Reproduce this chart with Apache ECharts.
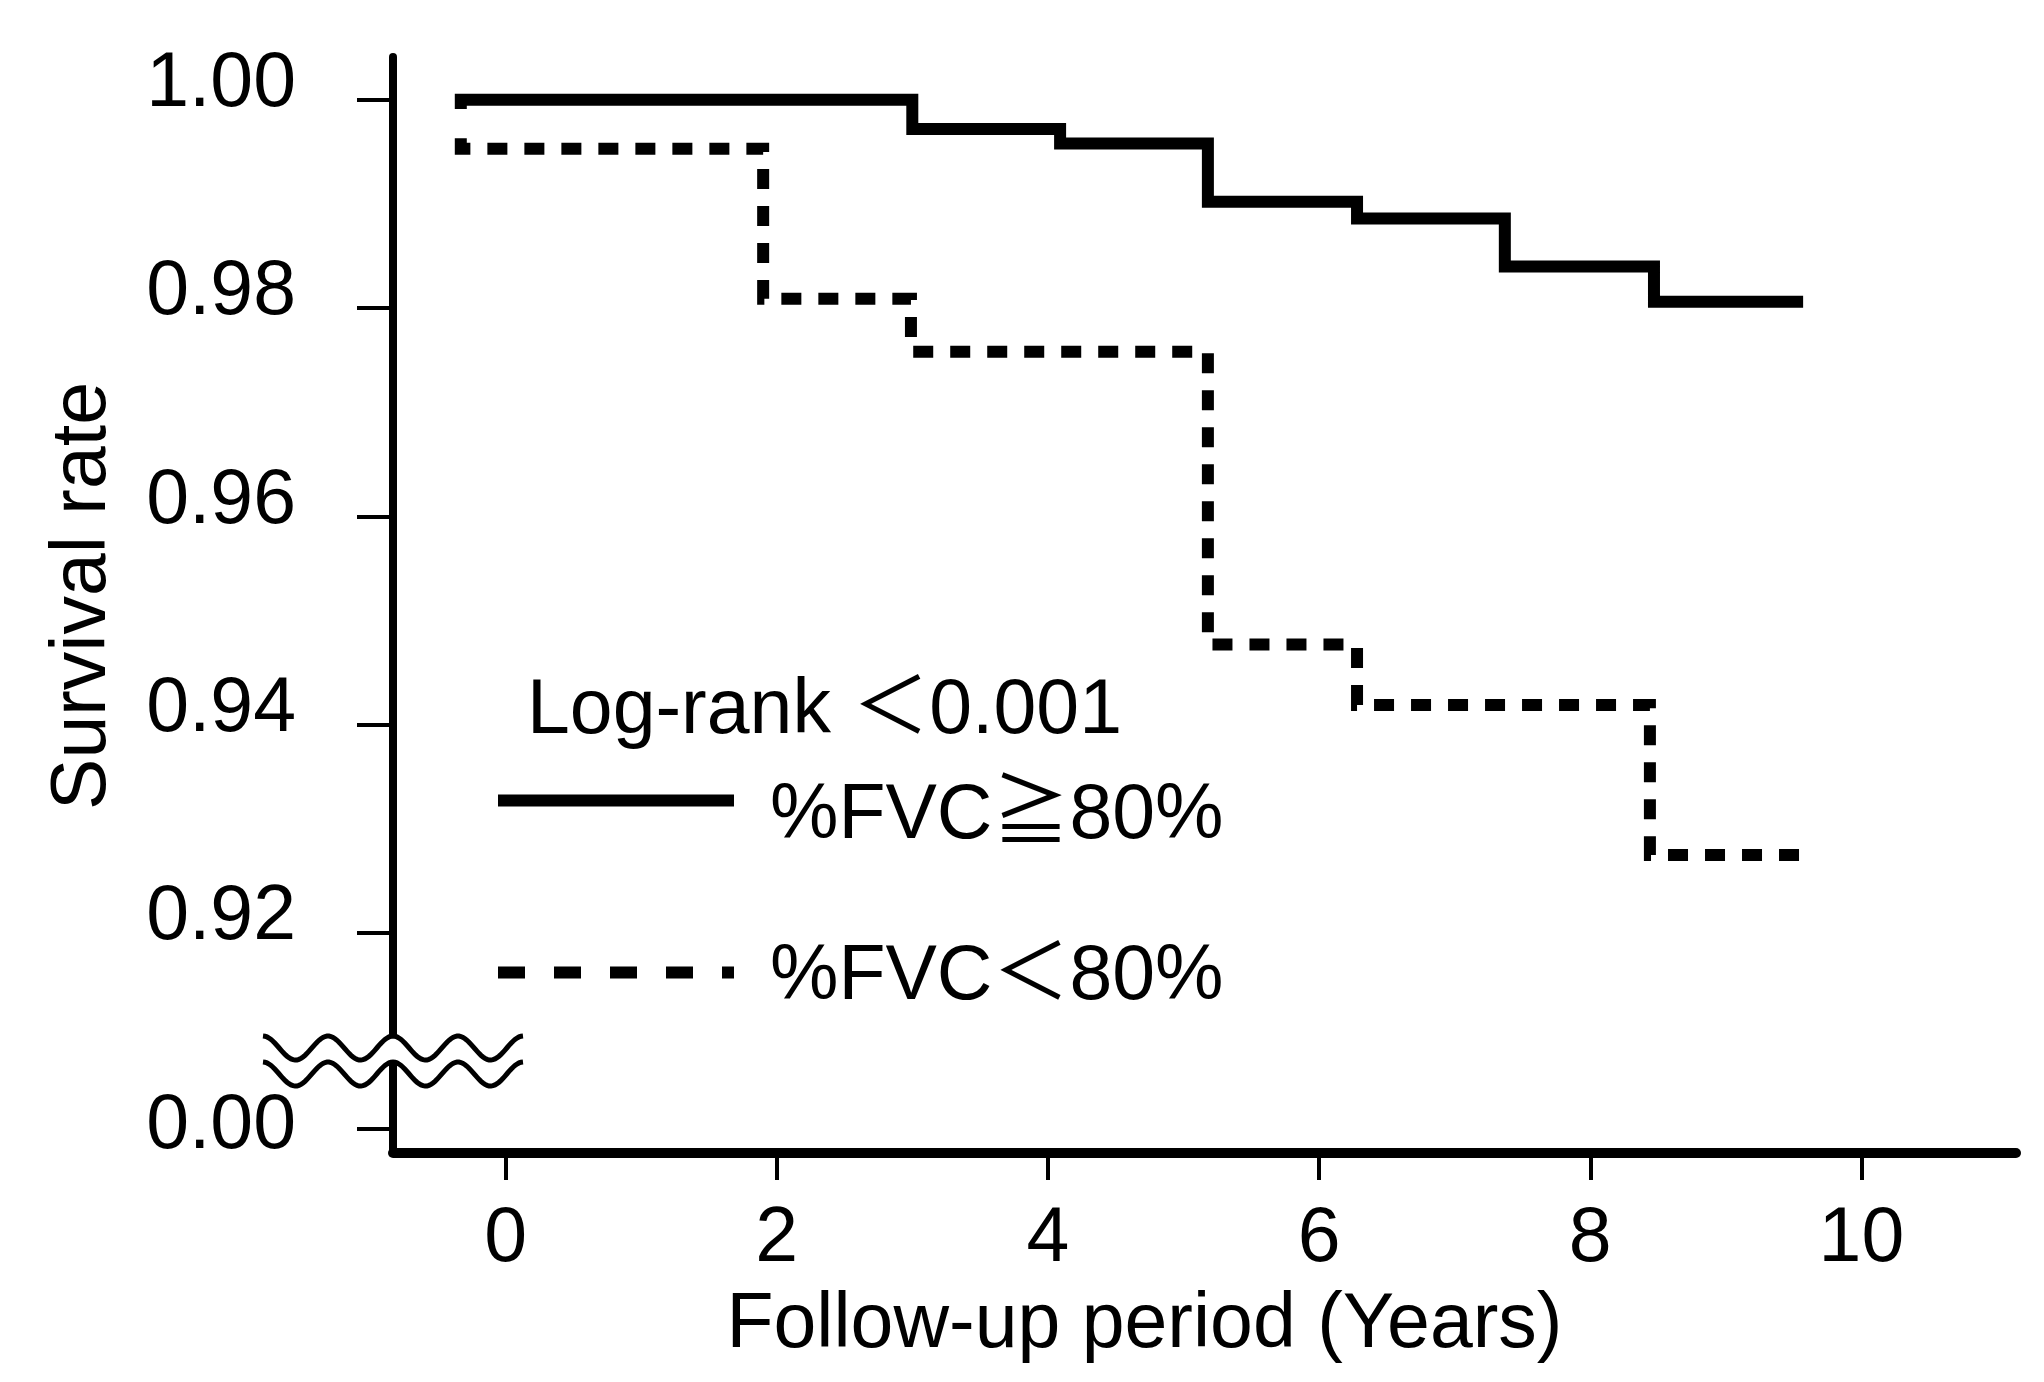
<!DOCTYPE html>
<html>
<head>
<meta charset="utf-8">
<script src="https://cdn.jsdelivr.net/npm/echarts@6/dist/echarts.min.js"></script>
<style>
html,body{margin:0;padding:0;background:#fff;}
#chart{width:2044px;height:1382px;}
</style>
</head>
<body>
<div id="chart"></div>
<script>
// ---- data ----
const seriesNames = ['%FVC≧80%', '%FVC＜80%'];
const timeHigh = [-0.33, -0.33, 3.00, 4.09, 5.18, 6.28, 7.37, 8.47, 9.57];
const survHigh = [0.9991, 1.0000, 0.9972, 0.9958, 0.9902, 0.9886, 0.9840, 0.9806, 0.9806];
const timeLow  = [-0.33, -0.33, 1.90, 2.99, 5.18, 6.28, 8.44, 9.59];
const survLow  = [0.9963, 0.9953, 0.9809, 0.9758, 0.9477, 0.9419, 0.9275, 0.9275];
const xTickValues = [0, 2, 4, 6, 8, 10];
const yTickValues = [0.9012, 0.92, 0.94, 0.96, 0.98, 1.00];   // lowest position stands for the broken-axis 0.00
const yTickLabels = ['0.00', '0.92', '0.94', '0.96', '0.98', '1.00'];
const annotation = 'Log-rank ＜0.001';
const xTitle = 'Follow-up period (Years)';
const yTitle = 'Survival rate';

const FONT = "'Liberation Sans', Arial, 'Noto Sans CJK JP', sans-serif";
const FS = 77;

const pairs = (xs, ys) => xs.map((x, i) => [x, ys[i]]);

const chart = echarts.init(document.getElementById('chart'), null, {renderer: 'canvas'});

function legendFor(i, top, lh, lineStyle) {
  return {
    orient: 'vertical', left: 492, top: top, padding: 0,
    itemWidth: 236, itemHeight: 12,
    itemStyle: {color: 'rgba(0,0,0,0)', borderWidth: 0},
    formatter: name => '\n' + name,
    textStyle: {fontFamily: FONT, fontSize: FS, color: '#000', lineHeight: lh, padding: [0, 0, 0, 31]},
    data: [{name: seriesNames[i], lineStyle: lineStyle}]
  };
}

const option = {
  animation: false,
  backgroundColor: '#ffffff',
  textStyle: {fontFamily: FONT, color: '#000'},
  grid: {left: 393, right: 28, top: 57, bottom: 229, containLabel: false},
  title: {
    text: annotation, left: 527, top: 673, padding: 0,
    textStyle: {fontFamily: FONT, fontSize: FS, fontWeight: 'normal', color: '#000'}
  },
  legend: [
    legendFor(0, 746, 32, {width: 12, type: 'solid', color: '#000'}),
    legendFor(1, 929, 10, {width: 12, type: [27, 29], color: '#000'})
  ],
  xAxis: {
    type: 'value', min: -0.83, max: 11.14,
    name: xTitle, nameLocation: 'middle', nameGap: 134,
    nameTextStyle: {fontFamily: FONT, fontSize: FS, color: '#000', padding: [0, 120, 0, 0]},
    axisLine: {show: true, onZero: false, lineStyle: {color: '#000', width: 10}},
    axisTick: {show: true, length: 27, customValues: xTickValues, lineStyle: {color: '#000', width: 4}},
    axisLabel: {show: true, margin: 48, customValues: xTickValues, fontFamily: FONT, fontSize: FS, color: '#000',
      formatter: v => String(v)},
    splitLine: {show: false}
  },
  yAxis: {
    type: 'value', min: 0.8989, max: 1.0041,
    name: yTitle, nameLocation: 'middle', nameGap: 271,
    nameTextStyle: {fontFamily: FONT, fontSize: FS, color: '#000', padding: [0, 0, 0, 18]},
    axisLine: {show: true, onZero: false, lineStyle: {color: '#000', width: 8}},
    axisTick: {show: true, length: 36, customValues: yTickValues, lineStyle: {color: '#000', width: 4}},
    axisLabel: {
      show: true, margin: 97, customValues: yTickValues, fontFamily: FONT, fontSize: FS, color: '#000',
      formatter: v => {
        let idx = 0, best = Infinity;
        yTickValues.forEach((t, i) => { const d = Math.abs(t - v); if (d < best) { best = d; idx = i; } });
        return idx === 0 ? '{z|' + yTickLabels[idx] + '}' : '{a|' + yTickLabels[idx] + '}';
      },
      rich: {
        a: {fontFamily: FONT, fontSize: FS, color: '#000', padding: [0, 0, 30, 0]},
        z: {fontFamily: FONT, fontSize: FS, color: '#000', padding: [0, 0, 4, 0]}
      }
    },
    splitLine: {show: false}
  },
  series: [
    {
      name: seriesNames[0], type: 'line', step: 'end', symbol: 'none',
      data: pairs(timeHigh, survHigh),
      lineStyle: {color: '#000', width: 12, type: 'solid', join: 'miter', cap: 'butt'},
      itemStyle: {color: '#000'}, z: 3
    },
    {
      name: seriesNames[1], type: 'line', step: 'end', symbol: 'none',
      data: pairs(timeLow, survLow),
      lineStyle: {color: '#000', width: 12, type: [20, 17], join: 'miter', cap: 'butt'},
      itemStyle: {color: '#000'}, z: 3
    }
  ]
};

chart.setOption(option);

// ---- axis-break decoration (double wavy line across the y axis) ----
function drawBreak() {
  const axisX = chart.convertToPixel({xAxisIndex: 0}, option.xAxis.min);
  const zeroY = chart.convertToPixel({yAxisIndex: 0}, yTickValues[0]);
  const upperC = zeroY - 81, lowerC = zeroY - 55;
  const amp = 12, period = 65;
  const x0 = axisX - 2 * period, x1 = axisX + 2 * period;
  const wave = (c) => {
    const pts = [];
    for (let x = x0; x <= x1 + 0.01; x += 2) {
      pts.push([x, c - amp * Math.cos(2 * Math.PI * (x - axisX) / period)]);
    }
    return pts;
  };
  const up = wave(upperC), low = wave(lowerC);
  const fillPts = up.concat(low.slice().reverse());
  chart.setOption({
    graphic: [
      {type: 'polygon', z: 100, shape: {points: fillPts}, style: {fill: '#fff', stroke: null}},
      {type: 'polyline', z: 101, shape: {points: up}, style: {stroke: '#000', lineWidth: 5, fill: null}},
      {type: 'polyline', z: 101, shape: {points: low}, style: {stroke: '#000', lineWidth: 5, fill: null}}
    ]
  });
}
drawBreak();
</script>
</body>
</html>
